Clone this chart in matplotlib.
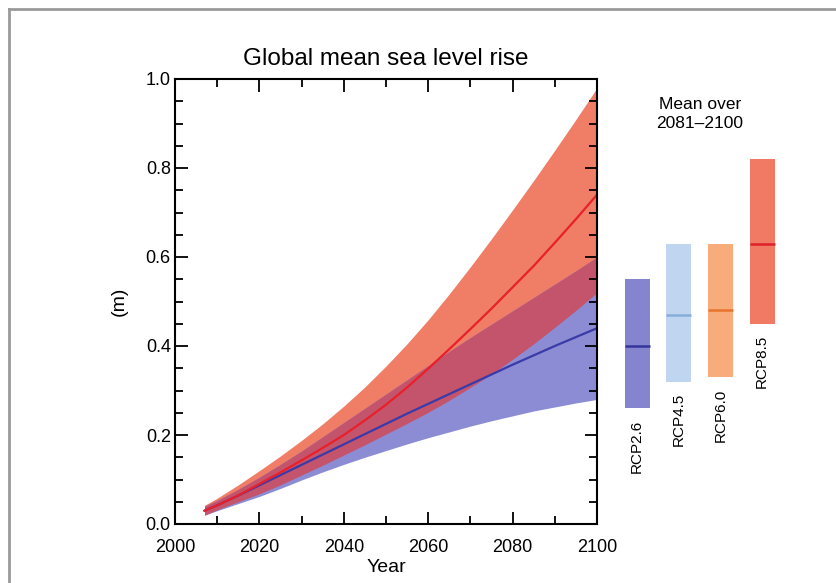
import matplotlib
matplotlib.use('Agg')
import matplotlib.pyplot as plt
from matplotlib.lines import Line2D
from matplotlib.ticker import MultipleLocator
import numpy as np

plt.rcParams['font.family'] = ['Liberation Sans', 'DejaVu Sans']

# Time series (m)
years = np.array([2007, 2010, 2015, 2020, 2025, 2030, 2035, 2040, 2045, 2050,
                  2055, 2060, 2065, 2070, 2075, 2080, 2085, 2090, 2095, 2100])

rcp26_mean = np.array([.030, .042, .064, .087, .110, .133, .156, .179, .202, .225,
                       .248, .270, .292, .314, .336, .358, .379, .400, .420, .440])
rcp26_low = np.array([.020, .030, .046, .062, .080, .099, .117, .134, .150, .165,
                      .180, .194, .207, .220, .232, .243, .254, .263, .272, .280])
rcp26_high = np.array([.040, .053, .078, .105, .134, .164, .196, .228, .260, .292,
                       .324, .356, .388, .419, .449, .479, .509, .539, .569, .600])

rcp85_mean = np.array([.030, .042, .064, .090, .116, .143, .171, .200, .233, .268,
                       .307, .349, .393, .438, .484, .532, .580, .632, .685, .740])
rcp85_low = np.array([.020, .032, .050, .068, .088, .110, .132, .155, .178, .202,
                      .226, .251, .278, .307, .337, .370, .405, .442, .480, .520])
rcp85_high = np.array([.042, .058, .088, .120, .153, .188, .225, .265, .308, .355,
                       .405, .459, .517, .578, .641, .706, .772, .840, .909, .980])

# Mean over 2081-2100
scenarios = ['RCP2.6', 'RCP4.5', 'RCP6.0', 'RCP8.5']
bar_mean = [0.40, 0.47, 0.48, 0.63]
bar_low = [0.26, 0.32, 0.33, 0.45]
bar_high = [0.55, 0.63, 0.63, 0.82]

bar_colors = ['#8585CF', '#C0D6F0', '#F8AC7C', '#F07A63']
mean_colors = ['#34349A', '#86AEDB', '#E8742E', '#E0202A']

W, H = 836, 583
fig = plt.figure(figsize=(W / 100, H / 100), dpi=100)

# moldura cinza (só topo e esquerda visíveis)
fig.add_artist(Line2D([9 / W, 1], [1 - 9 / H, 1 - 9 / H], transform=fig.transFigure,
                      color='#9a9a9a', lw=2))
fig.add_artist(Line2D([9 / W, 9 / W], [0, 1 - 9 / H], transform=fig.transFigure,
                      color='#9a9a9a', lw=2))

ax = fig.add_axes([175 / W, 1 - 524 / H, 422 / W, 445 / H])

# bandas
ax.fill_between(years, rcp85_low, rcp85_high, color='#F07D66', lw=0)
ax.fill_between(years, rcp26_low, rcp26_high, color='#8C8CD4', lw=0)
ov_lo = np.maximum(rcp85_low, rcp26_low)
ov_hi = np.minimum(rcp85_high, rcp26_high)
ax.fill_between(years, ov_lo, ov_hi, where=ov_lo < ov_hi, color='#C4546C', lw=0)

ax.plot(years, rcp26_mean, color='#3A3AA8', lw=1.6)
ax.plot(years, rcp85_mean, color='#E8202A', lw=1.6)

ax.set_xlim(2000, 2100)
ax.set_ylim(0, 1.0)
ax.xaxis.set_major_locator(MultipleLocator(20))
ax.xaxis.set_minor_locator(MultipleLocator(10))
ax.yaxis.set_major_locator(MultipleLocator(0.2))
ax.yaxis.set_minor_locator(MultipleLocator(0.05))
ax.yaxis.set_major_formatter(plt.FuncFormatter(lambda v, p: f'{v:.1f}'))
ax.tick_params(which='both', direction='in', top=True, right=True, width=1.3)
ax.tick_params(which='major', length=9)
ax.tick_params(which='minor', length=6)
ax.tick_params(axis='x', which='major', labelsize=13, pad=11)
ax.tick_params(axis='y', which='major', labelsize=13, pad=3)
for s in ax.spines.values():
    s.set_linewidth(1.5)

ax.set_title('Global mean sea level rise', fontsize=17.5, pad=10)
ax.set_xlabel('Year', fontsize=14, labelpad=2)
ax.set_ylabel('(m)', fontsize=14, labelpad=13)

# painel das barras
ax2 = fig.add_axes([610 / W, 1 - 524 / H, 180 / W, 445 / H])
ax2.set_xlim(-0.65, 3.67)
ax2.set_ylim(0, 1.0)
ax2.axis('off')
x = np.arange(len(scenarios))
ax2.bar(x, np.array(bar_high) - np.array(bar_low), bottom=bar_low, width=0.6,
        color=bar_colors, lw=0)
for i in range(len(scenarios)):
    ax2.hlines(bar_mean[i], x[i] - 0.3, x[i] + 0.3, color=mean_colors[i], lw=1.8)
    ax2.text(x[i], bar_low[i] - 0.025, scenarios[i], rotation=90, ha='center',
             va='top', fontsize=11)

fig.text(700 / W, 1 - 114 / H, 'Mean over\n2081\u20132100', ha='center', va='center',
         fontsize=12.5, linespacing=1.4)

fig.savefig('out.png', dpi=100, facecolor='white')
